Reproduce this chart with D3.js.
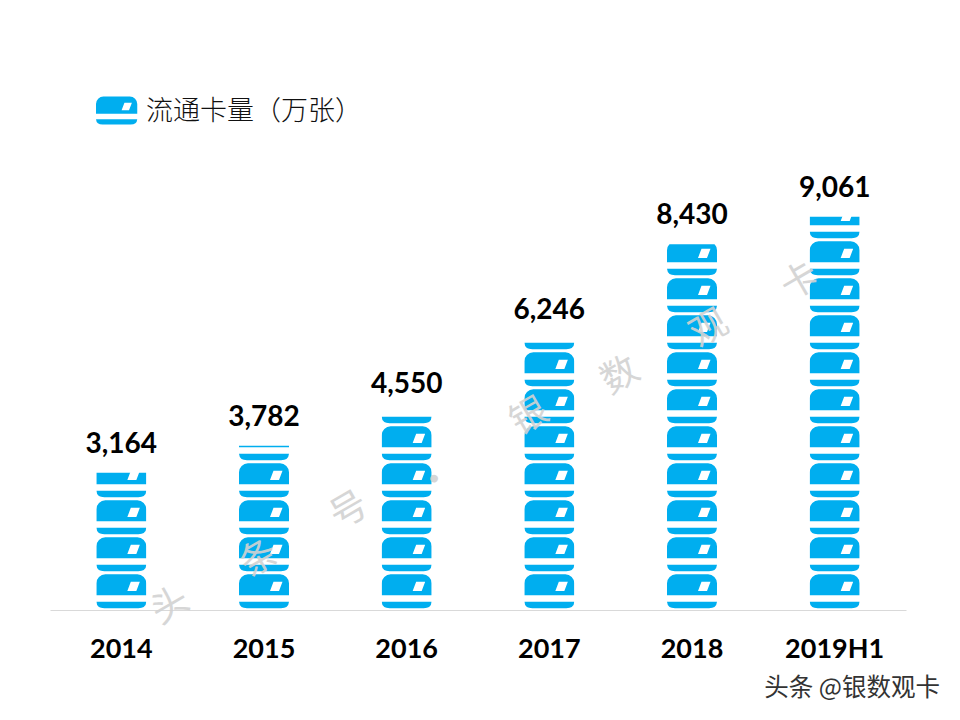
<!DOCTYPE html>
<html>
<head>
<meta charset="utf-8">
<title>流通卡量（万张）</title>
<script src="https://cdn.jsdelivr.net/npm/d3@7"></script>
<style>
  html, body { margin: 0; padding: 0; background: #fff; }
  svg { display: block; }
  text { text-spacing-trim: space-all; }
</style>
</head>
<body>
<div id="chart"></div>
<script>
// data
const categories = ['2014', '2015', '2016', '2017', '2018', '2019H1'];
const cardCounts = [3164, 3782, 4550, 6246, 8430, 9061];
const legendLabel = '流通卡量（万张）';
const watermarkChars = ['头', '条', '号', '·', '银', '数', '观', '卡'];
const footerLabel = '头条 @银数观卡';

const width = 960;
const height = 720;
const cardColor = '#00aeef';
const labelFont = 'Lato, sans-serif';
const cjkFont = '"Noto Sans CJK SC", sans-serif';

const svg = d3.select('#chart').append('svg')
  .attr('width', width)
  .attr('height', height)
  .attr('viewBox', [0, 0, width, height]);

const x = d3.scaleBand()
  .domain(categories)
  .range([50, 906]);

const y = d3.scaleLinear()
  .domain([0, 10000])
  .range([610, 176]);

const cardWidth = 50;
const cardStep = 37;   // one card plus the gap above it
const cardHeight = 34;

// One card, origin at top left: body with window, then the stripe below it
const defs = svg.append('defs');
const card = defs.append('g').attr('id', 'card');
card.append('path')
  .attr('fill', cardColor)
  .attr('fill-rule', 'evenodd')
  .attr('d', 'M0,21 V9 A9,9 0 0 1 9,0 H41 A9,9 0 0 1 50,9 V21 Z M34.5,7.5 L43.5,7.5 L40,16.7 L31,16.7 Z');
card.append('path')
  .attr('fill', cardColor)
  .attr('d', 'M0,27.5 H50 Q49.5,34 42,34 H8 Q0.5,34 0,27.5 Z');

// Bars are stacks of cards, cut off at the value by a clip
const bars = svg.append('g')
  .selectAll('g')
  .data(categories.map((c, i) => ({ category: c, value: cardCounts[i] })))
  .join('g')
  .attr('clip-path', (d, i) => `url(#bar-clip-${i})`);

defs.selectAll('clipPath')
  .data(bars.data())
  .join('clipPath')
  .attr('id', (d, i) => `bar-clip-${i}`)
  .append('rect')
  .attr('x', d => x(d.category) + x.bandwidth() / 2 - cardWidth / 2)
  .attr('y', d => y(d.value))
  .attr('width', cardWidth)
  .attr('height', d => y(0) - y(d.value));

bars.selectAll('use')
  .data(d => d3.range(Math.ceil((y(0) - y(d.value)) / cardStep)).map(n => ({ n, category: d.category })))
  .join('use')
  .attr('href', '#card')
  .attr('x', d => x(d.category) + x.bandwidth() / 2 - cardWidth / 2)
  .attr('y', d => y(0) - 1.7 - cardHeight - d.n * cardStep);

// Value labels
svg.append('g')
  .selectAll('text')
  .data(bars.data())
  .join('text')
  .attr('x', d => x(d.category) + x.bandwidth() / 2)
  .attr('y', d => y(d.value) - 20)
  .attr('text-anchor', 'middle')
  .attr('font-family', labelFont)
  .attr('font-weight', 700)
  .attr('font-size', 28)
  .attr('fill', '#000')
  .text(d => d3.format(',')(d.value));

// Baseline and year labels
const axis = svg.append('g')
  .attr('transform', `translate(0,${y(0)})`)
  .call(d3.axisBottom(x).tickSize(0).tickPadding(29));
axis.select('.domain').attr('stroke', '#d9d9d9');
axis.selectAll('text')
  .attr('font-family', labelFont)
  .attr('font-weight', 700)
  .attr('font-size', 27)
  .attr('fill', '#000');

// Legend
const legend = svg.append('g').attr('transform', 'translate(96,96.5)');
legend.append('use')
  .attr('href', '#card')
  .attr('transform', 'scale(0.825)');
legend.append('text')
  .attr('x', 50)
  .attr('y', 23.5)
  .attr('font-family', cjkFont)
  .attr('font-weight', 300)
  .attr('font-size', 27)
  .attr('fill', '#111')
  .text(legendLabel);

// Diagonal watermark, drawn over the bars
const wmX = d3.scaleOrdinal().domain(watermarkChars).range([168, 257, 347, 433, 527, 618, 707, 798]);
const wmY = d3.scaleOrdinal().domain(watermarkChars).range([602, 555, 507, 477, 413, 372, 325, 278]);
svg.append('g')
  .selectAll('text')
  .data(watermarkChars)
  .join('text')
  .attr('transform', d => `translate(${wmX(d)},${wmY(d)}) rotate(-30)`)
  .attr('text-anchor', 'middle')
  .attr('dominant-baseline', 'central')
  .attr('font-family', cjkFont)
  .attr('font-size', 37)
  .attr('fill', '#d2d2d2')
  .attr('opacity', 0.9)
  .text(d => d);

// Footer credit
svg.append('text')
  .attr('x', 940)
  .attr('y', 696)
  .attr('text-anchor', 'end')
  .attr('font-family', cjkFont)
  .attr('font-size', 24.5)
  .attr('fill', '#333')
  .text(footerLabel);
</script>
</body>
</html>
